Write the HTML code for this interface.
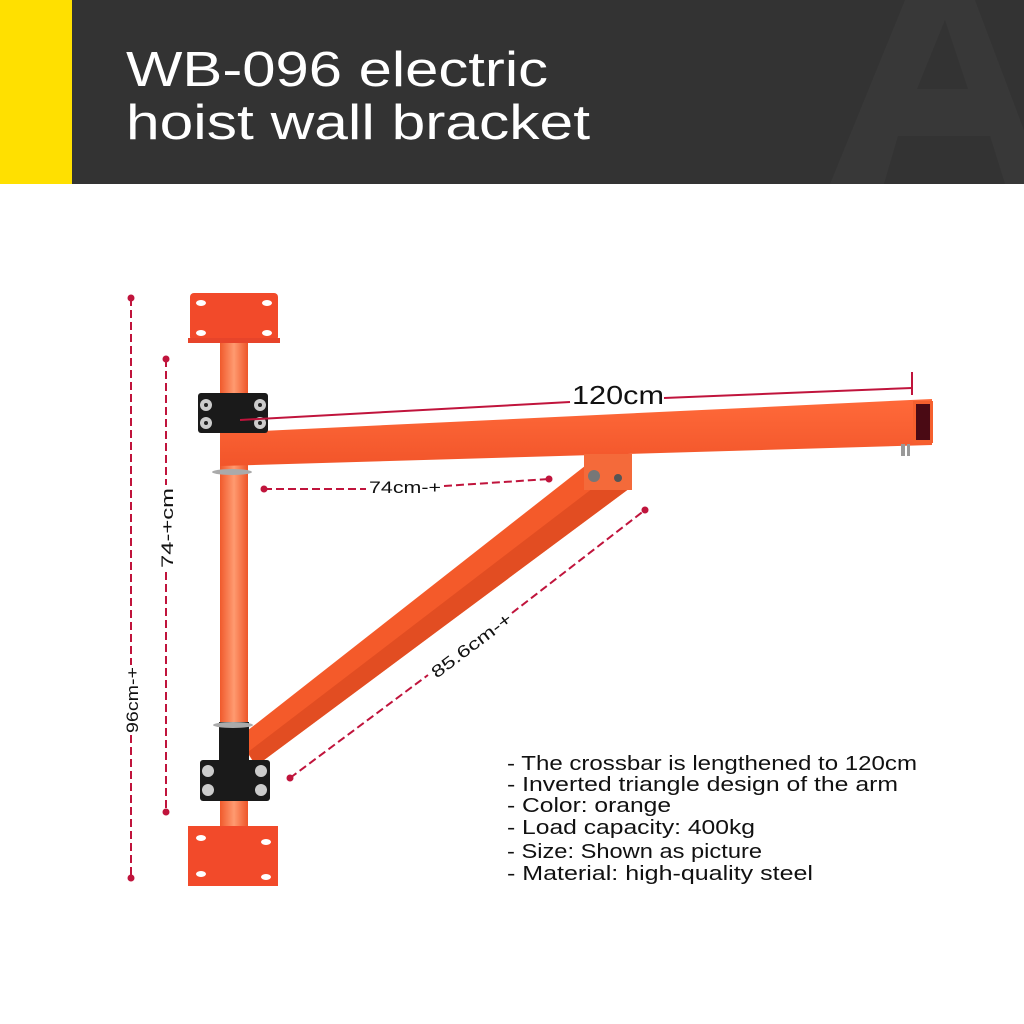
<!DOCTYPE html>
<html><head><style>
html,body{margin:0;padding:0;background:#fff;}
svg{display:block;}
</style></head><body>
<svg width="1024" height="1024" viewBox="0 0 1024 1024" xmlns="http://www.w3.org/2000/svg">
<defs>
<linearGradient id="pole" x1="0" x2="1" y1="0" y2="0">
<stop offset="0" stop-color="#f05a2c"/><stop offset="0.5" stop-color="#ff9a70"/><stop offset="1" stop-color="#ee5528"/>
</linearGradient>
<linearGradient id="bar" x1="0" x2="0" y1="0" y2="1">
<stop offset="0" stop-color="#ff6a3a"/><stop offset="1" stop-color="#f2552a"/>
</linearGradient>
</defs>
<rect x="0" y="0" width="1024" height="184" fill="#333333"/>
<polygon points="830,184 905,0 975,0 1024,130 1024,184 1005,184 990,136 898,136 884,184" fill="#383838"/>
<polygon points="917,89 945,20 968,89" fill="#333333"/>
<rect x="0" y="0" width="72" height="184" fill="#ffe000"/>
<text x="126" y="86" font-family="Liberation Sans, sans-serif" font-size="49" fill="#fff" textLength="422" lengthAdjust="spacingAndGlyphs">WB-096 electric</text>
<text x="126" y="139" font-family="Liberation Sans, sans-serif" font-size="49" fill="#fff" textLength="464" lengthAdjust="spacingAndGlyphs">hoist wall bracket</text>

<!-- pole -->
<rect x="220" y="338" width="28" height="492" fill="url(#pole)"/>
<!-- top plate -->
<rect x="190" y="293" width="88" height="48" rx="4" fill="#f24a2a"/>
<rect x="188" y="338" width="92" height="5" fill="#e7442a"/>
<ellipse cx="201" cy="303" rx="5" ry="3" fill="#fff"/><ellipse cx="267" cy="303" rx="5" ry="3" fill="#fff"/>
<ellipse cx="201" cy="333" rx="5" ry="3" fill="#fff"/><ellipse cx="267" cy="333" rx="5" ry="3" fill="#fff"/>
<!-- bottom plate -->
<rect x="188" y="826" width="90" height="60" fill="#f24a2a"/>
<ellipse cx="201" cy="838" rx="5" ry="3" fill="#fff"/><ellipse cx="266" cy="842" rx="5" ry="3" fill="#fff"/>
<ellipse cx="201" cy="874" rx="5" ry="3" fill="#fff"/><ellipse cx="266" cy="877" rx="5" ry="3" fill="#fff"/>
<!-- crossbar -->
<polygon points="220,433 932,399 932,445 220,466" fill="url(#bar)"/>
<rect x="913" y="401" width="20" height="42" fill="#f5602e"/>
<rect x="916" y="404" width="14" height="36" fill="#4a0a14"/>
<rect x="901" y="444" width="4" height="12" fill="#999"/><rect x="907" y="444" width="3" height="12" fill="#999"/>
<!-- top clamp -->
<rect x="198" y="393" width="70" height="40" rx="3" fill="#1a1a1a"/>
<circle cx="206" cy="405" r="6" fill="#ccc"/><circle cx="206" cy="423" r="6" fill="#ccc"/>
<circle cx="260" cy="405" r="6" fill="#ccc"/><circle cx="260" cy="423" r="6" fill="#ccc"/>
<circle cx="206" cy="405" r="2" fill="#222"/><circle cx="206" cy="423" r="2" fill="#222"/>
<circle cx="260" cy="405" r="2" fill="#222"/><circle cx="260" cy="423" r="2" fill="#222"/>
<ellipse cx="232" cy="472" rx="20" ry="3" fill="#aaa"/>
<!-- brace -->
<polygon points="590,462 630,488 256,766 238,738" fill="#f45a2a"/>
<polygon points="610,475 630,488 256,766 248,752" fill="#e24d22"/>
<rect x="584" y="454" width="48" height="36" fill="#f46a3a"/>
<circle cx="594" cy="476" r="6" fill="#777"/><circle cx="618" cy="478" r="4" fill="#555"/>
<!-- bottom clamp -->
<rect x="219" y="722" width="30" height="40" fill="#1a1a1a"/>
<ellipse cx="233" cy="725" rx="20" ry="3" fill="#aaa"/>
<rect x="200" y="760" width="70" height="41" rx="3" fill="#1a1a1a"/>
<circle cx="208" cy="771" r="6" fill="#ccc"/><circle cx="208" cy="790" r="6" fill="#ccc"/>
<circle cx="261" cy="771" r="6" fill="#ccc"/><circle cx="261" cy="790" r="6" fill="#ccc"/>

<!-- dimension lines -->
<g stroke="#c0143c" stroke-width="2" fill="none">
<line x1="131" y1="298" x2="131" y2="665" stroke-dasharray="8,4"/>
<line x1="131" y1="735" x2="131" y2="878" stroke-dasharray="8,4"/>
<line x1="166" y1="359" x2="166" y2="485" stroke-dasharray="8,4"/>
<line x1="166" y1="572" x2="166" y2="812" stroke-dasharray="8,4"/>
<line x1="264" y1="489" x2="366" y2="489" stroke-dasharray="8,4"/>
<line x1="444" y1="486" x2="549" y2="479" stroke-dasharray="8,4"/>
<line x1="290" y1="778" x2="428" y2="675" stroke-dasharray="8,4"/>
<line x1="512" y1="613" x2="645" y2="510" stroke-dasharray="8,4"/>
<line x1="240" y1="420" x2="570" y2="402"/>
<line x1="664" y1="398" x2="912" y2="388"/>
<line x1="912" y1="372" x2="912" y2="395"/>
</g>
<g fill="#c0143c">
<circle cx="131" cy="298" r="3.5"/><circle cx="131" cy="878" r="3.5"/>
<circle cx="166" cy="359" r="3.5"/><circle cx="166" cy="812" r="3.5"/>
<circle cx="264" cy="489" r="3.5"/><circle cx="549" cy="479" r="3.5"/>
<circle cx="290" cy="778" r="3.5"/><circle cx="645" cy="510" r="3.5"/>
</g>
<g font-family="Liberation Sans, sans-serif" fill="#111">
<text x="618" y="404" font-size="26" text-anchor="middle" textLength="92" lengthAdjust="spacingAndGlyphs">120cm</text>
<text x="405" y="493" font-size="17" text-anchor="middle" textLength="72" lengthAdjust="spacingAndGlyphs">74cm-+</text>
<text transform="translate(138,700) rotate(-90)" font-size="17" text-anchor="middle" textLength="66" lengthAdjust="spacingAndGlyphs">96cm-+</text>
<text transform="translate(173,528) rotate(-90)" font-size="17" text-anchor="middle" textLength="80" lengthAdjust="spacingAndGlyphs">74-+cm</text>
<text transform="translate(475,650) rotate(-37)" font-size="17" text-anchor="middle" textLength="96" lengthAdjust="spacingAndGlyphs">85.6cm-+</text>
</g>
<g font-family="Liberation Sans, sans-serif" font-size="20" fill="#111">
<text x="507" y="770" textLength="410" lengthAdjust="spacingAndGlyphs">- The crossbar is lengthened to 120cm</text>
<text x="507" y="791" textLength="391" lengthAdjust="spacingAndGlyphs">- Inverted triangle design of the arm</text>
<text x="507" y="812" textLength="164" lengthAdjust="spacingAndGlyphs">- Color: orange</text>
<text x="507" y="834" textLength="248" lengthAdjust="spacingAndGlyphs">- Load capacity: 400kg</text>
<text x="507" y="858" textLength="255" lengthAdjust="spacingAndGlyphs">- Size: Shown as picture</text>
<text x="507" y="880" textLength="306" lengthAdjust="spacingAndGlyphs">- Material: high-quality steel</text>
</g>
</svg>
</body></html>
